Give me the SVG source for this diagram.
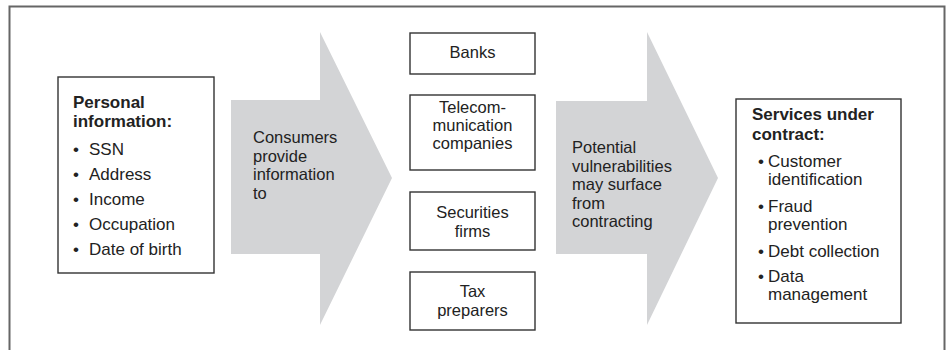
<svg xmlns="http://www.w3.org/2000/svg" width="949" height="350" viewBox="0 0 949 350">
  <style>
    text { font-family: "Liberation Sans", Arial, sans-serif; font-size: 16.5px; fill: #222; }
    .l { font-size: 17px; }
    .b { font-weight: bold; font-size: 17px; }
    .c { text-anchor: middle; }
    .box { fill: #fff; stroke: #333; stroke-width: 1.4; }
    .flow { fill: #d3d4d6; stroke: none; }
    .frame { fill: none; stroke: #666; stroke-width: 2; }
  </style>

  <!-- outer panel, open at the bottom edge of the page -->
  <rect class="frame" x="9.5" y="6.5" width="935" height="420"/>

  <!-- broad flow arrows -->
  <g id="connectors">
    <polygon id="arrow-provide" class="flow" points="231,100 320,100 320,32 392,178 320,325 320,254 231,254"/>
    <polygon id="arrow-contract" class="flow" points="556,101 647,101 647,32 718,178 647,325 647,254 556,254"/>
  </g>

  <g id="personal-info">
    <rect class="box" x="58" y="77" width="156" height="196"/>
    <text class="b" x="73" y="108">Personal</text>
    <text class="b" x="73" y="127">information:</text>
    <text class="l" x="73" y="155">•</text><text class="l" x="89" y="155">SSN</text>
    <text class="l" x="73" y="180">•</text><text class="l" x="89" y="180">Address</text>
    <text class="l" x="73" y="205">•</text><text class="l" x="89" y="205">Income</text>
    <text class="l" x="73" y="230">•</text><text class="l" x="89" y="230">Occupation</text>
    <text class="l" x="73" y="255">•</text><text class="l" x="89" y="255">Date of birth</text>
  </g>

  <g id="label-provide">
    <text x="253" y="143">Consumers</text>
    <text x="253" y="161.5">provide</text>
    <text x="253" y="180">information</text>
    <text x="253" y="198.5">to</text>
  </g>

  <g id="banks">
    <rect class="box" x="410" y="33" width="125" height="41"/>
    <text class="c" x="472.5" y="58">Banks</text>
  </g>

  <g id="telecom">
    <rect class="box" x="410" y="95" width="125" height="75"/>
    <text class="c" x="472.5" y="113">Telecom-</text>
    <text class="c" x="472.5" y="131">munication</text>
    <text class="c" x="472.5" y="149">companies</text>
  </g>

  <g id="securities">
    <rect class="box" x="410" y="192" width="125" height="58"/>
    <text class="c" x="472.5" y="218">Securities</text>
    <text class="c" x="472.5" y="236.5">firms</text>
  </g>

  <g id="tax">
    <rect class="box" x="410" y="272" width="125" height="58"/>
    <text class="c" x="472.5" y="297">Tax</text>
    <text class="c" x="472.5" y="315.5">preparers</text>
  </g>

  <g id="label-contract">
    <text x="572" y="153">Potential</text>
    <text x="572" y="171.5">vulnerabilities</text>
    <text x="572" y="190">may surface</text>
    <text x="572" y="208.5">from</text>
    <text x="572" y="227">contracting</text>
  </g>

  <g id="services">
    <rect class="box" x="736" y="99" width="165" height="224"/>
    <text class="b" x="752" y="120">Services under</text>
    <text class="b" x="752" y="140">contract:</text>
    <text class="l" x="758" y="167">•</text><text class="l" x="768" y="167">Customer</text>
    <text class="l" x="768" y="185">identification</text>
    <text class="l" x="758" y="212">•</text><text class="l" x="768" y="212">Fraud</text>
    <text class="l" x="768" y="230">prevention</text>
    <text class="l" x="758" y="257">•</text><text class="l" x="768" y="257">Debt collection</text>
    <text class="l" x="758" y="282">•</text><text class="l" x="768" y="282">Data</text>
    <text class="l" x="768" y="300">management</text>
  </g>
</svg>
